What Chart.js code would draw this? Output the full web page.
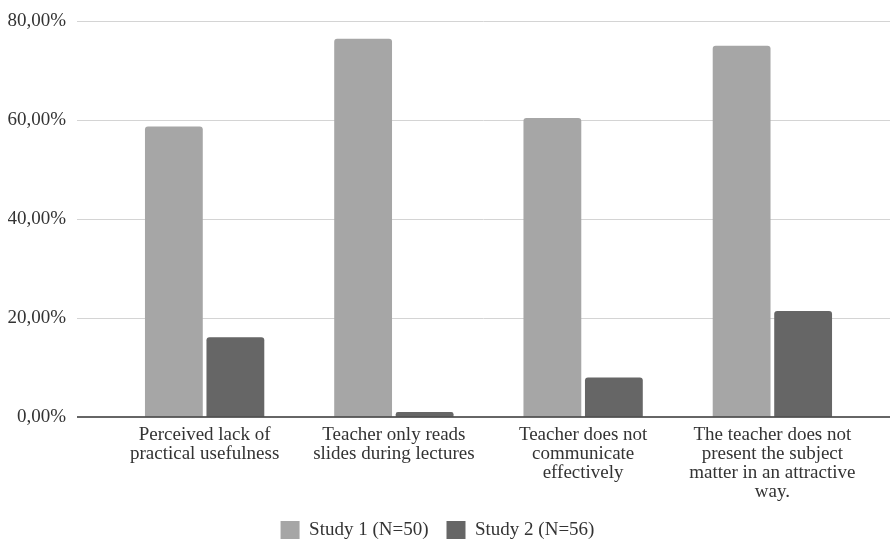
<!DOCTYPE html>
<html>
<head>
<meta charset="utf-8">
<script src="https://cdn.jsdelivr.net/npm/chart.js@4/dist/chart.umd.min.js"></script>
<style>
  html, body { margin: 0; padding: 0; background: #fff; overflow: hidden; }
  canvas { display: block; }
</style>
</head>
<body>
<canvas id="chart" width="890" height="550"></canvas>
<script>
/* ===== DATA ===== */
const categories = [
  ['Perceived lack of', 'practical usefulness'],
  ['Teacher only reads', 'slides during lectures'],
  ['Teacher does not', 'communicate', 'effectively'],
  ['The teacher does not', 'present the subject', 'matter in an attractive', 'way.'],
];
const seriesNames = ['Study 1 (N=50)', 'Study 2 (N=56)'];
const study1      = [58.7, 76.4, 60.4, 75.0];
const study2      = [16.1, 1.0, 8.0, 21.4];
const yTicks      = [0, 20, 40, 60, 80];

const FONT = 'Liberation Serif';
const TEXT = '#333333';

// Gridlines run past the plot area on both sides, like the sheet export
const gridPlugin = {
  id: 'sheetGrid',
  beforeDatasetsDraw(chart) {
    const { ctx, chartArea, scales } = chart;
    ctx.save();
    ctx.strokeStyle = '#d4d4d4';
    ctx.lineWidth = 1;
    yTicks.forEach(v => {
      if (v === 0) return;
      const y = Math.round(scales.y.getPixelForValue(v)) + 0.5;
      ctx.beginPath();
      ctx.moveTo(chartArea.left - 33, y);
      ctx.lineTo(chart.width, y);
      ctx.stroke();
    });
    ctx.restore();
  },
  afterDatasetsDraw(chart) {
    const { ctx, chartArea, scales } = chart;
    const y = scales.y.getPixelForValue(0);
    ctx.save();
    ctx.strokeStyle = '#333333';
    ctx.lineWidth = 1.5;
    ctx.beginPath();
    ctx.moveTo(chartArea.left - 33, y);
    ctx.lineTo(chart.width, y);
    ctx.stroke();
    ctx.restore();
  },
};

new Chart(document.getElementById('chart'), {
  type: 'bar',
  data: {
    labels: categories,
    datasets: [
      { label: seriesNames[0], data: study1, backgroundColor: '#a6a6a6' },
      { label: seriesNames[1], data: study2, backgroundColor: '#666666' },
    ],
  },
  options: {
    responsive: false,
    animation: false,
    layout: { padding: { top: 21, right: 23, left: 8, bottom: 0 } },
    datasets: {
      bar: {
        categoryPercentage: 0.65,
        barPercentage: 0.94,
        borderRadius: 3,
        borderSkipped: 'start',
      },
    },
    scales: {
      x: {
        afterFit: scale => { scale.height = 86; },
        grid: { display: false, drawTicks: false },
        border: { display: false },
        ticks: {
          color: TEXT,
          padding: 9,
          maxRotation: 0,
          autoSkip: false,
          font: { family: FONT, size: 19, lineHeight: 1.0 },
        },
      },
      y: {
        min: 0,
        max: 80,
        afterFit: scale => { scale.width = 102; },
        afterBuildTicks: scale => { scale.ticks = yTicks.map(v => ({ value: v })); },
        // invisible tick marks push the labels away from the plot
        grid: { display: true, color: 'transparent', drawOnChartArea: false, drawTicks: true, tickLength: 44 },
        border: { display: false },
        ticks: {
          color: TEXT,
          padding: 0,
          font: { family: FONT, size: 19 },
          callback: v => v.toFixed(2).replace('.', ',') + '%',
        },
      },
    },
    plugins: {
      legend: {
        position: 'bottom',
        labels: {
          color: TEXT,
          boxWidth: 19,
          boxHeight: 19,
          padding: 18,
          font: { family: FONT, size: 19 },
        },
      },
      tooltip: { enabled: false },
    },
  },
  plugins: [gridPlugin],
});
</script>
</body>
</html>
